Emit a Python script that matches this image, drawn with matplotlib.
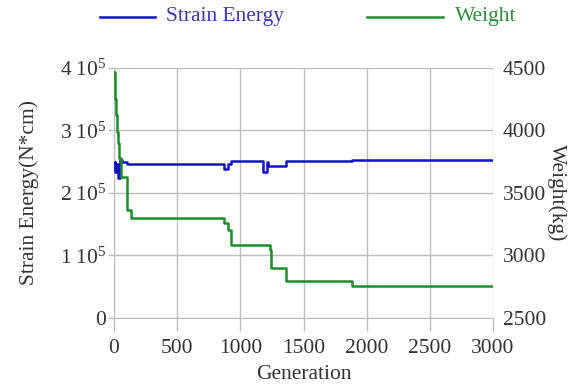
import matplotlib
matplotlib.use("Agg")
import matplotlib.pyplot as plt
from matplotlib.lines import Line2D

plt.rcParams['font.family'] = ['Liberation Serif', 'DejaVu Serif']
plt.rcParams['mathtext.fontset'] = 'custom'
plt.rcParams['mathtext.rm'] = 'Liberation Serif'
plt.rcParams['mathtext.it'] = 'Liberation Serif:italic'

# Strain energy (N*cm), step data
se_gen = [0, 5, 10, 20, 30, 45, 60, 100, 870, 905, 930, 1180, 1212, 1222, 1360, 1885, 3000]
se_val = [2.40e5, 2.50e5, 2.33e5, 2.46e5, 2.24e5, 2.52e5, 2.50e5, 2.47e5, 2.39e5, 2.47e5,
          2.51e5, 2.34e5, 2.50e5, 2.43e5, 2.51e5, 2.52e5, 2.52e5]

# Weight (kg), step data
w_gen = [0, 8, 15, 25, 32, 42, 55, 105, 135, 872, 900, 927, 1231, 1244, 1360, 1884, 3000]
w_val = [4470, 4250, 4120, 3990, 3900, 3780, 3625, 3360, 3295, 3255, 3205, 3080, 3040,
         2895, 2790, 2750, 2750]

x_ticks = [0, 500, 1000, 1500, 2000, 2500, 3000]
left_ticks = [0, 1e5, 2e5, 3e5, 4e5]
left_labels = ['0', r'$\mathrm{1\ 10^5}$', r'$\mathrm{2\ 10^5}$', r'$\mathrm{3\ 10^5}$', r'$\mathrm{4\ 10^5}$']
right_ticks = [2500, 3000, 3500, 4000, 4500]

blue = '#1010c8'
green = '#1f8a2a'
grid_c = '#bdbdbd'
txt_c = '#333333'
fs = 15.5

fig = plt.figure(figsize=(5.76, 3.88), dpi=100)
ax = fig.add_axes([114/576, 1-317.7/388, (493-114)/576, (317.7-68)/388])
ax2 = ax.twinx()

ax.step(se_gen, se_val, where='post', color=blue, lw=1.8, zorder=3)
ax2.step(w_gen, w_val, where='post', color=green, lw=1.8, zorder=3)

ax.set_xlim(0, 3000)
ax.set_ylim(0, 4e5)
ax2.set_ylim(2500, 4500)
ax.set_xticks(x_ticks)
ax.set_yticks(left_ticks)
ax.set_yticklabels(left_labels)
ax2.set_yticks(right_ticks)

ax.grid(True, color=grid_c, lw=1.0)
ax.set_axisbelow(True)
for a in (ax, ax2):
    for s in a.spines.values():
        s.set_visible(False)
ax.spines['left'].set_visible(True)
ax.spines['left'].set_color(grid_c)
ax.spines['bottom'].set_visible(True)
ax.spines['bottom'].set_color(grid_c)

ax.tick_params(axis='x', direction='out', length=9.5, width=1, color=grid_c,
               labelsize=fs, labelcolor=txt_c, pad=6)
ax.tick_params(axis='y', direction='out', length=4.5, width=1, color=grid_c,
               labelsize=fs, labelcolor=txt_c, pad=1)
ax2.tick_params(axis='y', length=0, labelsize=fs, labelcolor=txt_c, pad=7)

ax.set_xlabel('Generation', fontsize=fs, color=txt_c, labelpad=5)
ax.set_ylabel('Strain Energy(N*cm)', fontsize=fs, color=txt_c, labelpad=15)
ax2.set_ylabel('Weight(kg)', fontsize=fs, color=txt_c, rotation=-90, labelpad=15)

# legend above the plot
fig.add_artist(Line2D([100/576, 155/576], [1-17/388, 1-17/388], color=blue, lw=1.8))
fig.text(166/576, 1-17/388, 'Strain Energy', color='#3a3aa8', fontsize=fs, va='center')
fig.add_artist(Line2D([367/576, 443/576], [1-17/388, 1-17/388], color=green, lw=1.8))
fig.text(455/576, 1-17/388, 'Weight', color='#2f8a3a', fontsize=fs, va='center')

fig.savefig('out.png', dpi=100)
